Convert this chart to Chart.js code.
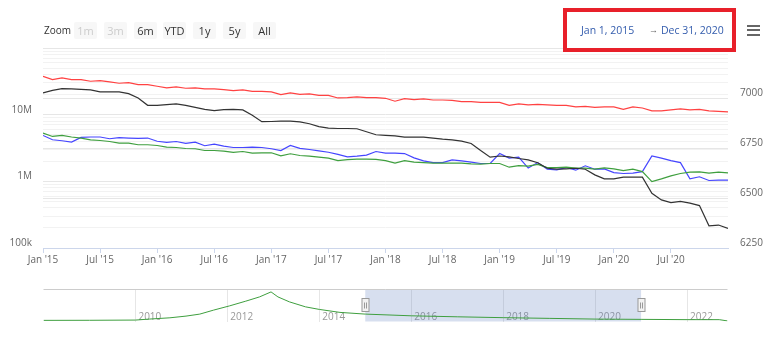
<!DOCTYPE html>
<html>
<head>
<meta charset="utf-8">
<script src="https://cdn.jsdelivr.net/npm/chart.js@4.4.1/dist/chart.umd.min.js"></script>
<style>
  html, body { margin: 0; padding: 0; background: #fff; }
  body { width: 784px; height: 337px; position: relative; overflow: hidden; font-family: 'Open Sans', sans-serif; }
  canvas { position: absolute; left: 0; }
  #mainChart { top: 0; }
  #navChart { top: 280px; }
  .zoom-label { position: absolute; left: 44px; top: 22px; font-size: 10px; line-height: 16px; color: #333; }
  .rs-btn { position: absolute; top: 22px; width: 23px; height: 17px; background: #f7f7f7; border-radius: 2px;
            font-size: 11px; line-height: 17px; text-align: center; color: #333; }
  .rs-btn.disabled { color: #ccc; }
  .date-box { position: absolute; left: 563px; top: 8px; width: 165px; height: 36px; border: 4px solid #e8202a; background: #fff; }
  .date-text { position: absolute; top: 22px; font-size: 10.5px; line-height: 16px; color: #335cad; white-space: nowrap; }
  .arrow { color: #666; font-size: 9px; }
  .menu { position: absolute; left: 747px; top: 25px; width: 13px; }
  .menu div { height: 2px; background: #666; margin-bottom: 2.3px; }
</style>
</head>
<body>
<canvas id="mainChart" width="784" height="337"></canvas>
<canvas id="navChart" width="784" height="50"></canvas>

<div class="zoom-label">Zoom</div>
<div class="rs-btn disabled" style="left:74px">1m</div>
<div class="rs-btn disabled" style="left:104px">3m</div>
<div class="rs-btn" style="left:134px">6m</div>
<div class="rs-btn" style="left:163px">YTD</div>
<div class="rs-btn" style="left:193px">1y</div>
<div class="rs-btn" style="left:223px">5y</div>
<div class="rs-btn" style="left:253px">All</div>

<div class="date-box"></div>
<div class="date-text" style="left:581px">Jan 1, 2015</div>
<div class="date-text arrow" style="left:649px">&rarr;</div>
<div class="date-text" style="left:661px">Dec 31, 2020</div>
<div class="menu"><div></div><div></div><div></div></div>

<script>
// monthly points, index 0 = Jan 2015 ... 72 = Jan 2021 (values in millions)
const tickMonths = [0, 6, 12, 18, 24, 30, 36, 42, 48, 54, 60, 66];
const tickLabels = ["Jan '15", "Jul '15", "Jan '16", "Jul '16", "Jan '17", "Jul '17",
                    "Jan '18", "Jul '18", "Jan '19", "Jul '19", "Jan '20", "Jul '20"];

const redSeries = [37.7, 33.6, 35.7, 33.6, 33.6, 31.7, 32.5, 31.1, 29.6, 30.3,
    28.3, 28.3, 26.7, 25.2, 26.1, 24.9, 25.2, 24.4, 24.4, 23.8,
    23.0, 23.5, 22.4, 22.4, 22.0, 20.0, 21.2, 20.2, 20.5, 19.5,
    19.5, 17.8, 18.0, 18.5, 18.0, 18.0, 17.6, 15.9, 17.4, 16.8,
    17.2, 16.6, 16.6, 16.4, 15.7, 15.7, 15.3, 15.3, 15.3, 13.8,
    14.5, 14.0, 14.3, 14.0, 13.8, 13.8, 13.1, 13.3, 12.9, 13.1,
    13.1, 12.0, 13.1, 12.6, 11.4, 11.4, 11.8, 12.2, 11.8, 12.0,
    11.4, 11.2, 11.0];

const blackSeries = [21.2, 23.2, 24.6, 24.4, 24.0, 23.5, 22.0, 22.0, 22.0, 20.7,
    17.8, 13.8, 13.8, 14.1, 14.5, 13.8, 12.9, 12.0, 11.5, 11.9,
    12.0, 11.8, 9.8, 7.85, 7.9, 8.0, 8.0, 7.8, 7.3, 6.6,
    6.3, 6.2, 6.2, 6.15, 5.55, 5.0, 4.9, 4.8, 4.6, 4.6,
    4.6, 4.45, 4.3, 4.2, 4.0, 3.7, 2.9, 2.3, 2.4, 2.33,
    2.2, 2.1, 1.9, 1.57, 1.52, 1.54, 1.57, 1.52, 1.25, 1.09,
    1.09, 1.155, 1.155, 1.155, 0.66, 0.526, 0.48, 0.50, 0.47, 0.433,
    0.215, 0.221, 0.197];

const greenSeries = [5.30, 4.71, 4.88, 4.62, 4.46, 4.20, 4.10, 3.96, 3.75, 3.75,
    3.54, 3.54, 3.45, 3.26, 3.22, 3.11, 3.08, 2.90, 2.90, 2.84,
    2.71, 2.80, 2.65, 2.68, 2.68, 2.41, 2.59, 2.44, 2.39, 2.31,
    2.23, 2.05, 2.12, 2.15, 2.15, 2.14, 2.05, 1.88, 2.05, 1.94,
    1.91, 1.88, 1.88, 1.88, 1.88, 1.83, 1.81, 1.85, 1.85, 1.63,
    1.72, 1.69, 1.79, 1.61, 1.61, 1.63, 1.58, 1.58, 1.52, 1.59,
    1.54, 1.45, 1.52, 1.40, 0.99, 1.09, 1.21, 1.31, 1.37, 1.39,
    1.33, 1.37, 1.34];

const blueSeries = [4.88, 4.20, 4.06, 3.88, 4.55, 4.62, 4.62, 4.35, 4.51, 4.46,
    4.40, 4.46, 3.99, 3.83, 3.96, 3.70, 3.88, 3.42, 3.62, 3.38,
    3.22, 3.22, 3.26, 3.22, 3.08, 2.90, 3.45, 3.13, 3.00, 2.87,
    2.73, 2.53, 2.33, 2.39, 2.47, 2.80, 2.65, 2.65, 2.61, 2.25,
    2.03, 1.91, 1.91, 2.10, 2.03, 1.94, 1.85, 1.85, 2.61, 2.23,
    2.31, 1.58, 1.91, 1.52, 1.49, 1.61, 1.47, 1.71, 1.52, 1.54,
    1.35, 1.31, 1.33, 1.40, 2.41, 2.23, 2.05, 1.91, 1.09, 1.17,
    1.03, 1.04, 1.04];

// navigator (full history, decimal years)
const navYears = [2008.0, 2009.0, 2010.0, 2010.3, 2010.75, 2011.1, 2011.4, 2011.7, 2012.05, 2012.4,
    2012.7, 2012.95, 2013.1, 2013.35, 2013.7, 2014.0, 2014.45, 2015.0, 2016.0, 2017.0,
    2018.0, 2019.0, 2020.0, 2021.0, 2022.0, 2022.7, 2022.88];
const navValues = [0.8, 0.85, 1.0, 1.7, 2.6, 3.8, 5.2, 8.0, 11.0, 14.3,
    17.3, 20.8, 17.3, 13.8, 10.3, 8.5, 6.4, 5.2, 4.0, 3.3,
    2.7, 2.2, 1.7, 1.5, 1.3, 1.3, 0.4];
const navTickYears = [2010, 2012, 2014, 2016, 2018, 2020, 2022];
const rangeStart = 2015.0, rangeEnd = 2021.0;

const rightTicks = [6250, 6500, 6750, 7000, 7250];

Chart.defaults.font.family = "'Open Sans', sans-serif";
Chart.defaults.font.size = 10;
Chart.defaults.color = '#666';

function toPoints(arr) {
    return arr.map((v, i) => ({ x: i, y: v }));
}

function lineSet(label, arr, color) {
    return {
        label: label,
        data: toPoints(arr),
        borderColor: color,
        borderWidth: 1.2,
        pointRadius: 0,
        fill: false,
        tension: 0,
        yAxisID: 'y'
    };
}

// log gridlines: 1..9 x each decade between 100k and 100M
const logGrid = [];
[0.1, 1, 10].forEach(d => {
    for (let m = 1; m < 10; m++) logGrid.push(+(m * d).toPrecision(3));
});
logGrid.push(100);

function isDecade(v) {
    return v === 0.1 || v === 1 || v === 10 || v === 100;
}

const mainCtx = document.getElementById('mainChart').getContext('2d');
new Chart(mainCtx, {
    type: 'line',
    data: {
        datasets: [
            lineSet('Red', redSeries, '#ff4242'),
            lineSet('Black', blackSeries, '#333333'),
            lineSet('Green', greenSeries, '#3f9f3f'),
            lineSet('Blue', blueSeries, '#4646ff')
        ]
    },
    options: {
        responsive: false,
        animation: false,
        layout: { padding: { left: 0, right: 0, top: 48, bottom: 69 } },
        plugins: { legend: { display: false }, tooltip: { enabled: false } },
        scales: {
            x: {
                type: 'linear',
                min: 0,
                max: 72,
                afterBuildTicks: s => { s.ticks = tickMonths.map(v => ({ value: v })); },
                afterFit: s => { s.height = 20; },
                ticks: {
                    autoSkip: false,
                    maxRotation: 0,
                    padding: 1,
                    color: '#666',
                    callback: v => tickLabels[tickMonths.indexOf(v)]
                },
                grid: { drawOnChartArea: false, drawTicks: true, tickLength: 5, tickColor: '#ccd6eb' },
                border: { color: '#ccd6eb', width: 1 }
            },
            y: {
                type: 'logarithmic',
                position: 'left',
                min: 0.1,
                max: 100,
                afterBuildTicks: s => { s.ticks = logGrid.map(v => ({ value: v })); },
                afterFit: s => { s.width = 43; },
                ticks: {
                    autoSkip: false,
                    padding: 11,
                    labelOffset: -5,
                    callback: v => v === 0.1 ? '100k' : v === 1 ? '1M' : v === 10 ? '10M' : ''
                },
                grid: {
                    drawTicks: false,
                    color: c => isDecade(c.tick.value) ? '#e6e6e6' : '#f2f2f2'
                },
                border: { display: false }
            },
            y2: {
                type: 'linear',
                position: 'right',
                min: 6250,
                max: 7250,
                afterBuildTicks: s => { s.ticks = rightTicks.map(v => ({ value: v })); },
                afterFit: s => { s.width = 56; },
                ticks: {
                    padding: 12,
                    labelOffset: -5,
                    callback: v => v === 7250 ? '' : String(v)
                },
                grid: { drawTicks: false, color: '#e6e6e6' },
                border: { display: false }
            }
        }
    }
});

// navigator: selection mask, outline and handles
const navDecor = {
    id: 'navDecor',
    beforeDatasetsDraw(chart) {
        const { ctx, chartArea: a, scales: { x } } = chart;
        const x0 = x.getPixelForValue(rangeStart), x1 = x.getPixelForValue(rangeEnd);
        ctx.save();
        ctx.fillStyle = 'rgba(102,133,194,0.26)';
        ctx.fillRect(x0, a.top, x1 - x0, a.bottom - a.top);
        ctx.strokeStyle = '#cccccc';
        ctx.lineWidth = 1;
        ctx.beginPath();
        ctx.moveTo(a.left, a.top);
        ctx.lineTo(a.right, a.top);
        ctx.stroke();
        ctx.restore();
    },
    afterDatasetsDraw(chart) {
        const { ctx, chartArea: a, scales: { x } } = chart;
        const mid = (a.top + a.bottom) / 2;
        [rangeStart, rangeEnd].forEach(v => {
            const px = Math.round(x.getPixelForValue(v)) + 0.5;
            ctx.save();
            ctx.fillStyle = '#f2f2f2';
            ctx.strokeStyle = '#999999';
            ctx.lineWidth = 1;
            ctx.fillRect(px - 3.5, mid - 7, 7, 13);
            ctx.strokeRect(px - 3.5, mid - 7, 7, 13);
            ctx.beginPath();
            ctx.moveTo(px - 1, mid - 3);
            ctx.lineTo(px - 1, mid + 3);
            ctx.moveTo(px + 1, mid - 3);
            ctx.lineTo(px + 1, mid + 3);
            ctx.stroke();
            ctx.restore();
        });
    }
};

const navCtx = document.getElementById('navChart').getContext('2d');
new Chart(navCtx, {
    type: 'line',
    data: {
        datasets: [{
            data: navYears.map((yr, i) => ({ x: yr, y: navValues[i] })),
            borderColor: '#3f9f3f',
            borderWidth: 1,
            pointRadius: 0,
            fill: false,
            tension: 0
        }]
    },
    options: {
        responsive: false,
        animation: false,
        layout: { padding: { left: 43.5, right: 56.5, top: 9.5, bottom: 0 } },
        plugins: { legend: { display: false }, tooltip: { enabled: false } },
        scales: {
            x: {
                type: 'linear',
                min: 2008.0,
                max: 2022.88,
                afterBuildTicks: s => { s.ticks = navTickYears.map(v => ({ value: v })); },
                afterFit: s => { s.height = 8.5; },
                ticks: {
                    autoSkip: false,
                    maxRotation: 0,
                    align: 'start',
                    mirror: true,
                    labelOffset: 3,
                    padding: -2,
                    color: '#999',
                    callback: v => String(v)
                },
                grid: { drawTicks: false, color: '#e6e6e6' },
                border: { display: false }
            },
            y: {
                display: false,
                min: 0,
                max: 22.5
            }
        }
    },
    plugins: [navDecor]
});
</script>
</body>
</html>
